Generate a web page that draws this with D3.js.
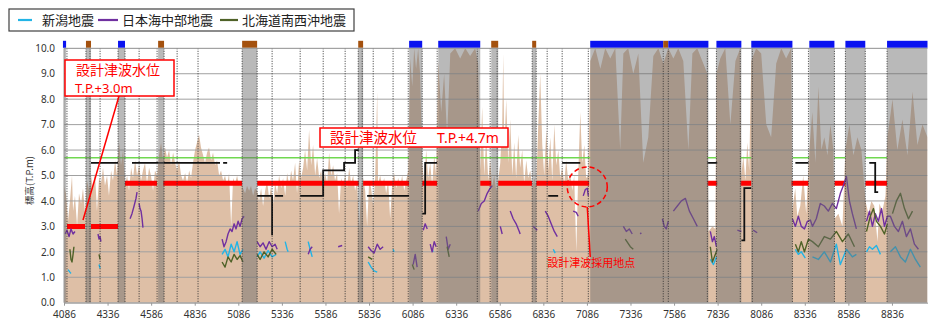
<!DOCTYPE html>
<html><head><meta charset="utf-8">
<script src="https://cdn.jsdelivr.net/npm/d3@7/dist/d3.min.js"></script>
<style>
body{margin:0;background:#fff;}
svg{display:block;font-family:"Noto Sans CJK JP","Noto Sans",sans-serif;}
</style>
</head><body>
<svg id="chart" width="930" height="322"></svg>
<script>
// ---------------- data ----------------
const xTicks = [4086,4336,4586,4836,5086,5336,5586,5836,6086,6336,6586,6836,7086,7336,7586,7836,8086,8336,8586,8836];
const yTicks = [0,1,2,3,4,5,6,7,8,9,10];
const seriesNames = ["新潟地震","日本海中部地震","北海道南西沖地震"];

// ground elevation profile [distance, T.P.m]
const terrain = [[4086,4.6],[4097,4.3],[4109,3.2],[4120,4.0],[4132,5.0],[4138,3.6],[4149,4.2],[4161,3.0],[4172,4.3],[4184,3.9],[4195,4.5],[4207,3.5],[4218,4.8],[4230,4.4],[4241,5.0],[4252,4.5],[4264,5.1],[4275,3.6],[4287,4.9],[4298,4.7],[4310,5.3],[4321,4.6],[4333,5.0],[4344,4.2],[4356,5.2],[4367,4.8],[4379,5.6],[4390,5.0],[4402,6.3],[4413,5.4],[4425,6.0],[4436,4.6],[4448,5.0],[4459,4.4],[4471,5.3],[4482,4.9],[4494,5.6],[4505,5.0],[4517,5.4],[4528,4.8],[4539,5.2],[4551,5.5],[4562,4.7],[4574,5.3],[4585,5.0],[4597,4.4],[4608,5.2],[4620,5.0],[4631,5.8],[4643,6.3],[4654,5.6],[4666,6.1],[4677,5.7],[4689,6.0],[4700,5.4],[4712,5.9],[4723,5.5],[4735,5.2],[4746,5.6],[4758,5.0],[4769,4.8],[4781,5.1],[4792,4.7],[4804,5.2],[4815,4.9],[4826,5.5],[4838,6.0],[4849,6.3],[4861,6.6],[4872,6.1],[4884,5.8],[4895,5.5],[4907,5.9],[4918,6.1],[4930,5.6],[4941,5.9],[4953,5.4],[4964,5.6],[4976,5.0],[4987,5.2],[4999,4.8],[5010,5.0],[5022,4.6],[5033,5.1],[5045,3.0],[5056,4.9],[5068,4.7],[5079,5.0],[5091,4.6],[5102,4.8],[5113,4.5],[5125,4.3],[5136,4.6],[5148,4.4],[5159,4.6],[5171,4.2],[5182,4.5],[5194,4.4],[5205,4.0],[5217,4.5],[5228,3.8],[5240,4.4],[5251,4.8],[5263,4.1],[5274,4.6],[5286,3.9],[5297,4.7],[5309,4.3],[5320,5.0],[5332,4.5],[5343,4.9],[5355,4.2],[5366,5.1],[5378,4.6],[5389,5.2],[5400,4.8],[5412,5.5],[5423,4.3],[5435,5.6],[5446,4.9],[5458,5.3],[5469,6.0],[5481,5.2],[5492,6.8],[5504,5.4],[5515,6.2],[5527,5.0],[5538,5.7],[5550,4.9],[5561,5.2],[5573,4.6],[5584,5.1],[5596,4.7],[5607,5.9],[5619,5.0],[5630,5.4],[5641,4.8],[5653,5.1],[5664,3.5],[5676,4.9],[5687,4.6],[5699,5.0],[5710,4.5],[5722,5.3],[5733,4.7],[5745,5.0],[5756,4.4],[5768,4.8],[5779,2.8],[5791,4.6],[5802,4.9],[5814,4.4],[5825,3.0],[5837,4.8],[5848,4.5],[5860,3.8],[5871,4.9],[5883,8.3],[5888,4.7],[5900,5.0],[5911,4.6],[5923,4.9],[5934,4.3],[5946,4.8],[5957,3.3],[5969,4.7],[5980,5.1],[5992,4.5],[6003,4.9],[6015,4.6],[6026,5.0],[6038,4.4],[6049,4.8],[6061,5.2],[6072,9.6],[6084,8.5],[6095,10],[6106,9.2],[6118,10],[6129,9.0],[6141,5.5],[6152,4.7],[6164,6.0],[6175,4.9],[6187,5.5],[6198,4.6],[6210,5.8],[6221,5.0],[6233,9.5],[6250,7.5],[6267,9.0],[6284,6.5],[6302,9.8],[6330,10],[6359,9.6],[6388,10],[6416,9.7],[6445,10],[6462,9.4],[6474,5.2],[6485,7.7],[6497,5.0],[6508,6.5],[6520,4.8],[6531,5.6],[6543,4.6],[6554,5.0],[6566,4.4],[6577,4.8],[6589,5.5],[6600,7.0],[6606,9.8],[6612,6.0],[6623,8.0],[6635,5.5],[6646,7.2],[6658,5.0],[6669,6.3],[6680,4.9],[6692,6.6],[6703,5.3],[6715,6.0],[6726,4.7],[6738,5.6],[6749,4.9],[6761,5.2],[6772,4.5],[6784,4.9],[6795,4.6],[6807,7.0],[6818,9.0],[6830,6.2],[6841,5.0],[6853,6.8],[6864,5.2],[6876,6.5],[6887,4.8],[6899,7.0],[6910,5.4],[6922,6.0],[6933,4.9],[6944,5.3],[6956,4.7],[6967,5.6],[6979,4.8],[6990,5.1],[7002,4.4],[7013,5.0],[7025,2.0],[7036,5.0],[7048,7.5],[7059,5.5],[7071,6.2],[7082,4.9],[7094,5.0],[7105,9.5],[7134,10],[7163,9.2],[7191,10],[7220,9.6],[7249,10],[7277,6.0],[7295,9.8],[7323,10],[7352,9.0],[7381,9.8],[7409,5.5],[7438,6.5],[7467,9.7],[7496,10],[7524,9.4],[7553,10],[7582,9.6],[7610,10],[7639,9.5],[7668,6.0],[7691,9.8],[7719,10],[7748,9.5],[7777,9.0],[7783,2.8],[7806,3.0],[7823,2.9],[7829,9.0],[7851,9.6],[7880,10],[7909,7.0],[7938,9.5],[7966,10],[7972,5.0],[7983,5.8],[7995,4.8],[8006,6.3],[8017,5.2],[8029,9.5],[8057,10],[8086,9.8],[8115,7.0],[8143,6.5],[8172,9.4],[8201,10],[8229,9.6],[8258,10],[8264,3.6],[8281,4.5],[8293,3.4],[8310,3.8],[8327,5.0],[8344,3.5],[8362,6.0],[8379,7.5],[8397,5.5],[8414,8.5],[8431,6.0],[8448,6.5],[8466,5.8],[8483,7.0],[8500,6.0],[8506,3.3],[8529,3.5],[8552,3.0],[8569,6.0],[8592,7.0],[8615,5.8],[8638,6.5],[8661,6.0],[8684,4.0],[8701,3.5],[8718,4.0],[8735,3.8],[8753,2.4],[8764,3.9],[8781,3.6],[8799,4.2],[8810,6.5],[8839,8.0],[8867,6.0],[8896,7.2],[8925,5.8],[8954,8.3],[8982,6.2],[9011,7.0],[9040,6.5]];

// excluded sections (gray) and their marker type: A = blue, B = brown
const sections = [[4080,4098,"A"],[4212,4241,"B"],[4396,4436,"A"],[4626,4660,"B"],[5108,5194,"B"],[5774,5802,"B"],[6066,6141,"A"],[6233,6474,"A"],[6537,6577,"B"],[6772,6795,"B"],[7105,7524,"A"],[7524,7553,"B"],[7553,7783,"A"],[7829,7972,"A"],[8029,8265,"A"],[8362,8506,"A"],[8569,8683,"A"],[8808,9040,"A"]];

// section boundaries (dotted)
const boundaries = [4103,4212,4235,4293,4396,4436,4517,4620,4660,4735,4855,5108,5194,5280,5441,5573,5699,5774,5797,5860,5974,6061,6141,6227,6457,6531,6571,6772,6795,6858,6944,7094,7524,7553,7777,7829,7966,8035,8265,8357,8506,8569,8683,8808];

// design tsunami water level [from, to, level]
const designLevel = [[4103,4207,3.0],[4241,4396,3.0],[4436,4620,4.7],[4654,5108,4.7],[5194,5779,4.7],[5802,6066,4.7],[6141,6227,4.7],[6474,6537,4.7],[6577,6772,4.7],[6795,7099,4.7],[7777,7834,4.7],[7966,8029,4.7],[8259,8357,4.7],[8506,8569,4.7],[8683,8808,4.7]];

// green reference level [from, to, level]
const greenLevel = [[4086,6066,5.7],[6141,6233,5.7],[6474,7105,5.7],[7777,7829,5.7],[7966,8029,5.7],[8265,8362,5.7],[8506,8569,5.7],[8683,8808,5.7]];

// black step line (null = gap)
const blackStep = [[4241,5.5],[4396,5.5],null,[4476,5.5],[4981,5.5],null,[4999,5.5],[5022,5.5],null,
 [5194,4.2],[5280,4.2],[5280,2.65],null,[5297,4.2],[5343,4.2],null,
 [5441,4.2],[5573,4.2],[5573,5.2],[5693,5.2],[5693,5.5],[5756,5.5],[5756,6.0],[5779,6.0],null,
 [5825,4.2],[6066,4.2],null,[6141,3.5],[6158,3.5],[6158,5.5],[6227,5.5],null,
 [6864,4.2],[6921,4.2],null,[6944,5.5],[7048,5.5],null,[7777,5.5],[7834,5.5],null,
 [7972,2.45],[7989,2.45],[7989,4.5],[8029,4.5],null,[8282,5.5],[8357,5.5],null,
 [8706,5.5],[8740,5.5],[8740,4.35],[8757,4.35]];

// 新潟地震
const niigata = [[4109,1.3],[4120,1.2],[4126,1.15],null,[4287,1.5],[4293,1.35],null,
 [4993,1.9],[5010,2.1],[5027,1.8],[5045,2.3],[5062,2.0],[5079,2.4],[5096,1.9],[5113,2.1],null,
 [5194,1.8],[5211,2.0],[5234,1.75],[5257,2.05],[5280,1.8],[5303,1.9],null,
 [5355,2.4],[5366,2.1],[5372,2.0],null,[5487,2.4],[5498,2.1],[5510,1.8],null,
 [5831,1.6],[5848,1.4],[5865,1.25],[5883,1.2],null,[5974,2.1],[5980,2.0],null,
 [6198,2.1],[6204,2.0],null,[6893,2.1],[6904,1.95],null,
 [7794,1.7],[7812,1.5],[7829,1.8],null,[8282,2.1],[8299,1.9],[8316,2.0],[8339,1.75],null,
 [8380,1.8],[8414,1.7],[8448,2.0],[8483,1.6],[8517,2.3],[8540,1.5],[8575,2.1],[8609,1.8],[8632,1.9],null,
 [8690,2.0],[8707,2.2],[8724,2.1],[8747,2.25],[8770,1.9],null,
 [8827,2.0],[8856,2.2],[8885,1.8],[8913,1.6],[8942,2.1],[8971,1.7],[8999,1.4]];

// 日本海中部地震
const nihonkai = [[4092,2.7],[4103,2.85],[4115,2.6],[4126,2.9],[4138,2.7],[4149,2.8],null,
 [4281,2.7],[4287,2.5],[4293,2.6],[4298,2.4],null,
 [4465,3.3],[4476,3.5],[4488,3.8],[4499,4.1],[4505,4.35],null,
 [4517,3.9],[4522,3.7],[4528,3.6],[4534,3.3],[4539,2.95],null,
 [4993,2.5],[5004,2.2],[5016,2.4],[5027,2.7],[5039,2.9],[5050,2.8],[5062,3.1],[5073,2.9],[5085,3.2],[5096,3.0],[5108,3.3],[5119,3.4],null,
 [5194,2.4],[5211,2.2],[5228,2.35],[5245,2.1],[5263,2.4],[5280,2.2],[5297,2.3],[5309,2.1],null,
 [5487,1.9],[5498,2.1],[5510,2.2],null,[5659,2.2],[5682,2.25],null,
 [5831,2.2],[5848,2.05],[5865,1.95],[5883,2.3],[5900,2.1],[5917,2.2],null,
 [6089,1.5],[6101,1.9],[6112,1.4],null,[6147,2.85],[6158,3.1],[6170,2.9],null,
 [6187,2.3],[6198,2.0],[6210,2.4],[6221,2.2],null,[6279,2.6],[6290,2.1],[6302,2.3],null,
 [6462,3.6],[6480,3.9],[6497,4.0],[6514,4.3],[6531,4.5],[6543,4.6],null,
 [6589,3.0],[6600,2.7],null,[6646,3.6],[6663,3.3],[6680,3.1],[6698,2.8],[6703,2.7],null,
 [6778,3.0],[6801,2.85],null,[6847,3.6],[6864,3.4],[6881,3.1],[6899,2.8],[6916,2.6],null,
 [7007,3.6],[7025,3.55],[7036,3.4],null,[7065,4.2],[7077,4.45],[7088,4.5],[7094,4.2],null,
 [7295,3.0],[7312,2.8],[7329,2.9],[7346,2.7],null,[7392,2.7],[7398,2.75],null,
 [7519,3.3],[7530,3.0],[7541,2.9],[7553,3.2],null,
 [7582,3.6],[7605,3.8],[7628,4.0],[7651,4.1],[7674,3.6],[7697,3.3],[7719,3.0],null,
 [7794,2.8],[7806,2.4],[7817,2.6],[7829,2.2],null,[7949,2.85],[7972,2.8],null,[8040,2.85],[8063,2.75],null,
 [8265,3.3],[8282,3.0],[8299,3.4],[8316,3.0],[8334,2.9],[8351,3.2],[8368,3.25],
 [8380,3.0],[8402,3.3],[8425,3.9],[8448,3.8],[8471,3.6],[8494,3.9],[8517,3.7],[8540,4.3],[8557,4.6],[8575,4.96],[8592,4.0],[8609,3.5],[8632,2.9],null,
 [8690,3.2],[8707,3.6],[8724,3.0],[8741,3.5],[8758,3.2],[8776,3.7],[8793,3.0],[8810,3.4],[8827,3.4],[8850,3.0],[8873,2.8],[8896,3.2],[8919,2.6],[8942,2.9],[8965,2.3],[8988,2.1]];

// 北海道南西沖地震
const hokkaido = [[4120,2.1],[4126,1.7],[4132,1.6],[4138,1.9],[4143,2.2],null,[4287,1.9],[4293,1.7],null,
 [4993,1.6],[5010,1.4],[5027,1.8],[5045,1.6],[5062,1.9],[5079,1.7],[5096,1.85],[5113,1.6],null,
 [5194,1.9],[5211,1.7],[5234,2.0],[5257,1.8],[5280,2.1],[5303,1.9],null,
 [5831,1.8],[5854,1.7],null,[6084,1.5],[6095,1.3],null,[6284,2.2],[6296,1.8],null,
 [7306,2.5],[7335,2.2],[7352,2.1],null,[7794,2.2],[7806,1.6],[7823,1.9],[7834,2.1],null,
 [8282,2.3],[8299,2.0],[8316,2.4],[8334,2.0],[8357,2.5],[8380,2.4],[8414,2.2],[8448,2.6],[8483,2.5],[8517,2.8],[8552,2.4],[8586,2.7],[8621,2.2],null,
 [8690,2.8],[8712,3.4],[8730,3.7],[8747,3.2],[8770,3.0],[8793,2.7],[8810,3.1],null,
 [8839,3.5],[8862,4.0],[8885,4.3],[8908,3.7],[8931,3.3],[8954,3.6]];

// annotations
const note1 = {text:"設計津波水位", level:"T.P.+3.0m", target:[4195,3.25]};
const note2 = {text:"設計津波水位", level:"T.P.+4.7m"};
const adopt = {text:"設計津波採用地点", point:[7088,4.55]};

// ---------------- drawing ----------------
const svg = d3.select("#chart");
const x = d3.scaleLinear().domain([4086,9040]).range([64,927.5]);
const y = d3.scaleLinear().domain([0,10]).range([302.7,48.3]);
const X0 = x.range()[0], X1 = x.range()[1], Y0 = y.range()[0], Y1 = y.range()[1];

svg.append("defs").append("clipPath").attr("id","plot")
  .append("rect").attr("x",X0).attr("y",Y1).attr("width",X1-X0).attr("height",Y0-Y1);
const plot = svg.append("g").attr("clip-path","url(#plot)");

// terrain
plot.append("path").datum(terrain)
  .attr("fill","rgb(222,191,166)")
  .attr("d", d3.area().x(d=>x(d[0])).y0(y(0)).y1(d=>y(d[1])));

// gridlines
plot.append("g").selectAll("line").data(yTicks).join("line")
  .attr("x1",X0).attr("x2",X1).attr("y1",d=>y(d)).attr("y2",d=>y(d))
  .attr("stroke","#a0a0a0").attr("stroke-width",1);

// green line
plot.append("g").selectAll("line").data(greenLevel).join("line")
  .attr("x1",d=>x(d[0])).attr("x2",d=>x(d[1])).attr("y1",d=>y(d[2])).attr("y2",d=>y(d[2]))
  .attr("stroke","#70d850").attr("stroke-width",1.6);

// red design level
plot.append("g").selectAll("line").data(designLevel).join("line")
  .attr("x1",d=>x(d[0])).attr("x2",d=>x(d[1])).attr("y1",d=>y(d[2])).attr("y2",d=>y(d[2]))
  .attr("stroke","#ff0000").attr("stroke-width",5);

// black step
const lineGen = d3.line().defined(d=>d!==null).x(d=>x(d[0])).y(d=>y(d[1]));
plot.append("path").datum(blackStep).attr("fill","none").attr("stroke","#111")
  .attr("stroke-width",1.8).attr("d",lineGen);

// series
const seriesColors = ["#22b4e6","#7030a0","#4f6228"];
[niigata, nihonkai, hokkaido].forEach((s,i)=>{
  plot.append("path").datum(s).attr("fill","none").attr("stroke",seriesColors[i])
    .attr("stroke-width",1.4).attr("stroke-linejoin","round").attr("d",lineGen);
});

// gray sections overlay
plot.append("g").selectAll("rect").data(sections).join("rect")
  .attr("x",d=>x(d[0])).attr("width",d=>x(d[1])-x(d[0]))
  .attr("y",Y1).attr("height",Y0-Y1)
  .attr("fill","#6a6a6a").attr("fill-opacity",0.47);

// dotted boundaries
plot.append("g").selectAll("line").data(boundaries).join("line")
  .attr("x1",d=>x(d)).attr("x2",d=>x(d)).attr("y1",Y1).attr("y2",Y0)
  .attr("stroke","#333").attr("stroke-width",1).attr("stroke-dasharray","1,1.5");

// top markers
svg.append("g").selectAll("rect").data(sections).join("rect")
  .attr("x",d=>x(d[0])).attr("width",d=>x(d[1])-x(d[0]))
  .attr("y",Y1-7.5).attr("height",7)
  .attr("fill",d=>d[2]==="A"?"#0a12f0":"#a4510e");

// axes frame
svg.append("line").attr("x1",X0).attr("x2",X0).attr("y1",Y1).attr("y2",Y0).attr("stroke","#999");
svg.append("line").attr("x1",X0).attr("x2",X1).attr("y1",Y1).attr("y2",Y1).attr("stroke","#999");

const xAxis = svg.append("g").attr("transform",`translate(0,${Y0})`)
  .call(d3.axisBottom(x).tickValues(xTicks).tickFormat(d=>d).tickSize(3).tickSizeOuter(0));
xAxis.select(".domain").attr("stroke","#999");
xAxis.selectAll(".tick line").attr("stroke","#999");
xAxis.selectAll("text").attr("font-size",10).attr("fill","#333").attr("font-family","Noto Sans").attr("dy","0.95em");

const yAxis = svg.append("g").attr("transform",`translate(${X0},0)`)
  .call(d3.axisLeft(y).tickValues(yTicks).tickFormat(d3.format(".1f")).tickSize(0).tickPadding(9));
yAxis.select(".domain").remove();
yAxis.selectAll("text").attr("font-size",10).attr("fill","#333").attr("font-family","Noto Sans");

svg.append("text").attr("transform",`translate(33,${(Y0+Y1)/2+5}) rotate(-90)`)
  .attr("text-anchor","middle").attr("font-size",9.5).attr("fill","#333").text("標高(T.P.m)");

// legend
const lg = svg.append("g");
lg.append("rect").attr("x",9).attr("y",9).attr("width",345).attr("height",22)
  .attr("fill","#fff").attr("stroke","#404040").attr("stroke-width",1.2);
const legX = [[18,32,42],[98,118,122],[220,238,242]];
seriesNames.forEach((n,i)=>{
  lg.append("line").attr("x1",legX[i][0]).attr("x2",legX[i][1]).attr("y1",20).attr("y2",20)
    .attr("stroke",seriesColors[i]).attr("stroke-width",2.2);
  lg.append("text").attr("x",legX[i][2]).attr("y",25).attr("font-size",13).attr("fill","#222").text(n);
});

// annotation 1
const a1 = svg.append("g");
a1.append("line").attr("x1",119).attr("y1",96).attr("x2",x(note1.target[0])).attr("y2",y(note1.target[1]))
  .attr("stroke","#ff0000").attr("stroke-width",1.5);
a1.append("rect").attr("x",65).attr("y",60).attr("width",109).attr("height",36)
  .attr("fill","#fff").attr("stroke","#ff0000").attr("stroke-width",1.5);
a1.append("text").attr("x",76).attr("y",75).attr("font-size",14).attr("fill","#ff0000").text(note1.text);
a1.append("text").attr("x",75).attr("y",93).attr("font-size",13).attr("fill","#ff0000")
  .attr("font-family","Noto Sans").text(note1.level);

// annotation 2
const a2 = svg.append("g");
a2.append("rect").attr("x",320).attr("y",128).attr("width",188).attr("height",19)
  .attr("fill","#fff").attr("stroke","#ff0000").attr("stroke-width",1.5);
a2.append("text").attr("x",330).attr("y",143).attr("font-size",14.5).attr("fill","#ff0000").text(note2.text);
a2.append("text").attr("x",437).attr("y",143).attr("font-size",14).attr("fill","#ff0000")
  .attr("font-family","Noto Sans").text(note2.level);

// adoption point
const cx = x(adopt.point[0]), cy = y(adopt.point[1]);
svg.append("circle").attr("cx",cx).attr("cy",cy).attr("r",20)
  .attr("fill","none").attr("stroke","#ff0000").attr("stroke-width",1.5).attr("stroke-dasharray","5,3");
svg.append("line").attr("x1",cx).attr("y1",cy+20).attr("x2",cx+3).attr("y2",257)
  .attr("stroke","#ff0000").attr("stroke-width",1.5);
svg.append("text").attr("x",cx+4).attr("y",267).attr("text-anchor","middle")
  .attr("font-size",11).attr("fill","#ff0000").text(adopt.text);
</script>
</body></html>
